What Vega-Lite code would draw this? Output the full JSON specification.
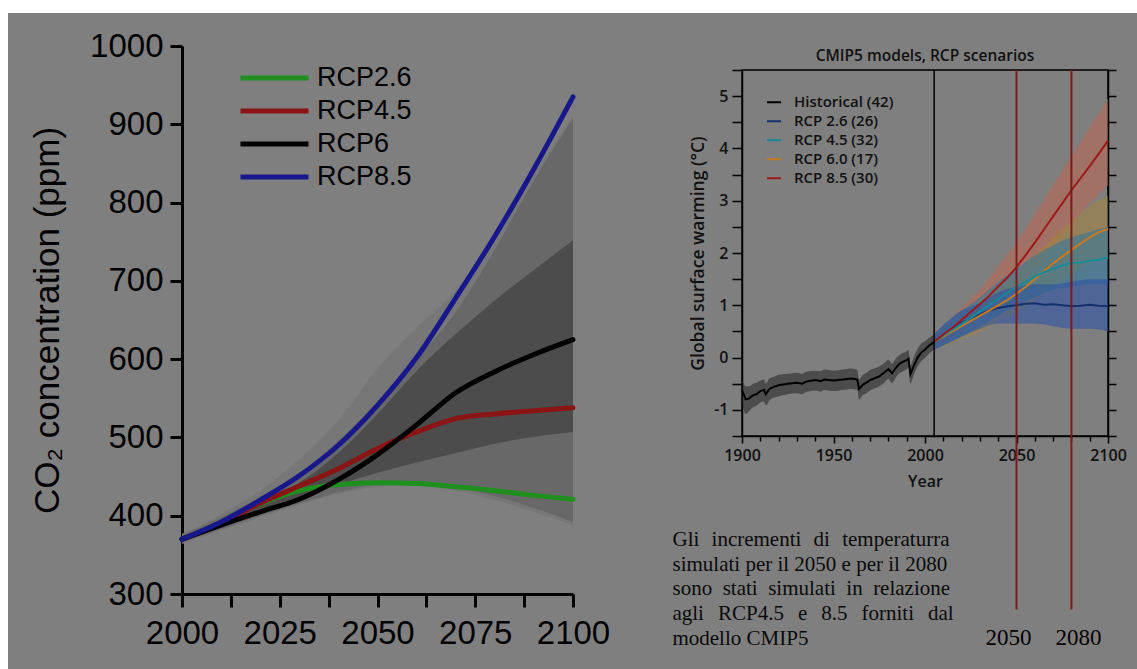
{
  "$schema": "https://vega.github.io/schema/vega-lite/v6.json",
  "background": "#7f7f7f",
  "padding": 0,
  "config": {
    "view": {"stroke": null},
    "axis": {"grid": false, "labelOverlap": false, "labelFlush": false},
    "text": {"font": "Liberation Serif"}
  },
  "datasets": {
    "co2_lines": [
      {"scenario": "RCP2.6", "year": 2000, "value": 370}, {"scenario": "RCP2.6", "year": 2010, "value": 390}, {"scenario": "RCP2.6", "year": 2020, "value": 415}, {"scenario": "RCP2.6", "year": 2030, "value": 432}, {"scenario": "RCP2.6", "year": 2040, "value": 440}, {"scenario": "RCP2.6", "year": 2050, "value": 442}, {"scenario": "RCP2.6", "year": 2060, "value": 441}, {"scenario": "RCP2.6", "year": 2070, "value": 437}, {"scenario": "RCP2.6", "year": 2080, "value": 432}, {"scenario": "RCP2.6", "year": 2090, "value": 426}, {"scenario": "RCP2.6", "year": 2100, "value": 421},
      {"scenario": "RCP4.5", "year": 2000, "value": 370}, {"scenario": "RCP4.5", "year": 2010, "value": 390}, {"scenario": "RCP4.5", "year": 2020, "value": 416}, {"scenario": "RCP4.5", "year": 2030, "value": 438}, {"scenario": "RCP4.5", "year": 2040, "value": 460}, {"scenario": "RCP4.5", "year": 2050, "value": 486}, {"scenario": "RCP4.5", "year": 2060, "value": 507}, {"scenario": "RCP4.5", "year": 2070, "value": 524}, {"scenario": "RCP4.5", "year": 2080, "value": 530}, {"scenario": "RCP4.5", "year": 2090, "value": 534}, {"scenario": "RCP4.5", "year": 2100, "value": 538},
      {"scenario": "RCP6", "year": 2000, "value": 370}, {"scenario": "RCP6", "year": 2010, "value": 388}, {"scenario": "RCP6", "year": 2020, "value": 405}, {"scenario": "RCP6", "year": 2030, "value": 421}, {"scenario": "RCP6", "year": 2040, "value": 446}, {"scenario": "RCP6", "year": 2050, "value": 478}, {"scenario": "RCP6", "year": 2060, "value": 516}, {"scenario": "RCP6", "year": 2070, "value": 557}, {"scenario": "RCP6", "year": 2080, "value": 584}, {"scenario": "RCP6", "year": 2090, "value": 606}, {"scenario": "RCP6", "year": 2100, "value": 625},
      {"scenario": "RCP8.5", "year": 2000, "value": 370}, {"scenario": "RCP8.5", "year": 2010, "value": 392}, {"scenario": "RCP8.5", "year": 2020, "value": 420}, {"scenario": "RCP8.5", "year": 2030, "value": 451}, {"scenario": "RCP8.5", "year": 2040, "value": 490}, {"scenario": "RCP8.5", "year": 2050, "value": 541}, {"scenario": "RCP8.5", "year": 2060, "value": 602}, {"scenario": "RCP8.5", "year": 2070, "value": 678}, {"scenario": "RCP8.5", "year": 2080, "value": 757}, {"scenario": "RCP8.5", "year": 2090, "value": 843}, {"scenario": "RCP8.5", "year": 2100, "value": 935}
    ],
    "co2_bands": [
      {"band": "outer", "year": 2000, "lo": 364, "hi": 377}, {"band": "outer", "year": 2010, "lo": 381, "hi": 402}, {"band": "outer", "year": 2020, "lo": 398, "hi": 432}, {"band": "outer", "year": 2030, "lo": 414, "hi": 472}, {"band": "outer", "year": 2040, "lo": 428, "hi": 522}, {"band": "outer", "year": 2050, "lo": 437, "hi": 588}, {"band": "outer", "year": 2060, "lo": 440, "hi": 640}, {"band": "outer", "year": 2070, "lo": 432, "hi": 688}, {"band": "outer", "year": 2080, "lo": 420, "hi": 758}, {"band": "outer", "year": 2090, "lo": 405, "hi": 836}, {"band": "outer", "year": 2100, "lo": 388, "hi": 912},
      {"band": "mid", "year": 2000, "lo": 366, "hi": 375}, {"band": "mid", "year": 2010, "lo": 383, "hi": 398}, {"band": "mid", "year": 2020, "lo": 400, "hi": 424}, {"band": "mid", "year": 2030, "lo": 416, "hi": 454}, {"band": "mid", "year": 2040, "lo": 430, "hi": 496}, {"band": "mid", "year": 2050, "lo": 440, "hi": 545}, {"band": "mid", "year": 2060, "lo": 442, "hi": 600}, {"band": "mid", "year": 2070, "lo": 436, "hi": 660}, {"band": "mid", "year": 2080, "lo": 425, "hi": 740}, {"band": "mid", "year": 2090, "lo": 410, "hi": 828}, {"band": "mid", "year": 2100, "lo": 392, "hi": 908},
      {"band": "inner", "year": 2000, "lo": 368, "hi": 373}, {"band": "inner", "year": 2010, "lo": 386, "hi": 394}, {"band": "inner", "year": 2020, "lo": 405, "hi": 418}, {"band": "inner", "year": 2030, "lo": 422, "hi": 442}, {"band": "inner", "year": 2040, "lo": 440, "hi": 480}, {"band": "inner", "year": 2050, "lo": 455, "hi": 530}, {"band": "inner", "year": 2060, "lo": 468, "hi": 585}, {"band": "inner", "year": 2070, "lo": 480, "hi": 632}, {"band": "inner", "year": 2080, "lo": 492, "hi": 675}, {"band": "inner", "year": 2090, "lo": 501, "hi": 714}, {"band": "inner", "year": 2100, "lo": 507, "hi": 752}
    ],
    "cmip_bands": [
      {"series": "Historical", "year": 1900, "lo": -0.85, "hi": -0.40}, {"series": "Historical", "year": 1902, "lo": -1.08, "hi": -0.55}, {"series": "Historical", "year": 1904, "lo": -1.02, "hi": -0.55}, {"series": "Historical", "year": 1906, "lo": -0.95, "hi": -0.50}, {"series": "Historical", "year": 1908, "lo": -0.92, "hi": -0.48}, {"series": "Historical", "year": 1910, "lo": -0.86, "hi": -0.44}, {"series": "Historical", "year": 1912, "lo": -0.84, "hi": -0.42}, {"series": "Historical", "year": 1913, "lo": -0.92, "hi": -0.50}, {"series": "Historical", "year": 1915, "lo": -0.82, "hi": -0.40}, {"series": "Historical", "year": 1918, "lo": -0.76, "hi": -0.36}, {"series": "Historical", "year": 1920, "lo": -0.74, "hi": -0.33}, {"series": "Historical", "year": 1925, "lo": -0.70, "hi": -0.31}, {"series": "Historical", "year": 1930, "lo": -0.68, "hi": -0.29}, {"series": "Historical", "year": 1933, "lo": -0.70, "hi": -0.31}, {"series": "Historical", "year": 1935, "lo": -0.66, "hi": -0.27}, {"series": "Historical", "year": 1940, "lo": -0.63, "hi": -0.25}, {"series": "Historical", "year": 1943, "lo": -0.65, "hi": -0.26}, {"series": "Historical", "year": 1945, "lo": -0.62, "hi": -0.23}, {"series": "Historical", "year": 1950, "lo": -0.64, "hi": -0.25}, {"series": "Historical", "year": 1955, "lo": -0.62, "hi": -0.23}, {"series": "Historical", "year": 1960, "lo": -0.60, "hi": -0.21}, {"series": "Historical", "year": 1963, "lo": -0.62, "hi": -0.24}, {"series": "Historical", "year": 1964, "lo": -0.80, "hi": -0.42}, {"series": "Historical", "year": 1966, "lo": -0.72, "hi": -0.33}, {"series": "Historical", "year": 1968, "lo": -0.68, "hi": -0.29}, {"series": "Historical", "year": 1970, "lo": -0.63, "hi": -0.24}, {"series": "Historical", "year": 1975, "lo": -0.55, "hi": -0.17}, {"series": "Historical", "year": 1978, "lo": -0.47, "hi": -0.10}, {"series": "Historical", "year": 1980, "lo": -0.41, "hi": -0.04}, {"series": "Historical", "year": 1982, "lo": -0.49, "hi": -0.12}, {"series": "Historical", "year": 1984, "lo": -0.38, "hi": -0.02}, {"series": "Historical", "year": 1986, "lo": -0.30, "hi": 0.05}, {"series": "Historical", "year": 1988, "lo": -0.26, "hi": 0.09}, {"series": "Historical", "year": 1990, "lo": -0.22, "hi": 0.12}, {"series": "Historical", "year": 1991, "lo": -0.19, "hi": 0.15}, {"series": "Historical", "year": 1992, "lo": -0.50, "hi": -0.15}, {"series": "Historical", "year": 1994, "lo": -0.32, "hi": 0.02}, {"series": "Historical", "year": 1996, "lo": -0.17, "hi": 0.17}, {"series": "Historical", "year": 1998, "lo": -0.07, "hi": 0.27}, {"series": "Historical", "year": 2000, "lo": -0.01, "hi": 0.31}, {"series": "Historical", "year": 2002, "lo": 0.07, "hi": 0.37}, {"series": "Historical", "year": 2005, "lo": 0.16, "hi": 0.44},
      {"series": "RCP 8.5", "year": 2005, "lo": 0.15, "hi": 0.45}, {"series": "RCP 8.5", "year": 2020, "lo": 0.45, "hi": 0.95}, {"series": "RCP 8.5", "year": 2030, "lo": 0.7, "hi": 1.3}, {"series": "RCP 8.5", "year": 2040, "lo": 1.0, "hi": 1.75}, {"series": "RCP 8.5", "year": 2050, "lo": 1.3, "hi": 2.2}, {"series": "RCP 8.5", "year": 2060, "lo": 1.7, "hi": 2.75}, {"series": "RCP 8.5", "year": 2070, "lo": 2.15, "hi": 3.3}, {"series": "RCP 8.5", "year": 2080, "lo": 2.55, "hi": 3.85}, {"series": "RCP 8.5", "year": 2090, "lo": 2.95, "hi": 4.4}, {"series": "RCP 8.5", "year": 2100, "lo": 3.3, "hi": 4.95},
      {"series": "RCP 6.0", "year": 2005, "lo": 0.15, "hi": 0.45}, {"series": "RCP 6.0", "year": 2020, "lo": 0.35, "hi": 0.85}, {"series": "RCP 6.0", "year": 2030, "lo": 0.5, "hi": 1.1}, {"series": "RCP 6.0", "year": 2040, "lo": 0.7, "hi": 1.35}, {"series": "RCP 6.0", "year": 2050, "lo": 0.85, "hi": 1.6}, {"series": "RCP 6.0", "year": 2060, "lo": 1.1, "hi": 1.95}, {"series": "RCP 6.0", "year": 2070, "lo": 1.35, "hi": 2.3}, {"series": "RCP 6.0", "year": 2080, "lo": 1.6, "hi": 2.6}, {"series": "RCP 6.0", "year": 2090, "lo": 1.8, "hi": 2.9}, {"series": "RCP 6.0", "year": 2100, "lo": 1.9, "hi": 3.1},
      {"series": "RCP 4.5", "year": 2005, "lo": 0.15, "hi": 0.45}, {"series": "RCP 4.5", "year": 2020, "lo": 0.4, "hi": 0.9}, {"series": "RCP 4.5", "year": 2030, "lo": 0.6, "hi": 1.15}, {"series": "RCP 4.5", "year": 2040, "lo": 0.8, "hi": 1.45}, {"series": "RCP 4.5", "year": 2050, "lo": 1.0, "hi": 1.7}, {"series": "RCP 4.5", "year": 2060, "lo": 1.15, "hi": 1.95}, {"series": "RCP 4.5", "year": 2070, "lo": 1.3, "hi": 2.15}, {"series": "RCP 4.5", "year": 2080, "lo": 1.35, "hi": 2.3}, {"series": "RCP 4.5", "year": 2090, "lo": 1.4, "hi": 2.4}, {"series": "RCP 4.5", "year": 2100, "lo": 1.4, "hi": 2.5},
      {"series": "RCP 2.6", "year": 2005, "lo": 0.15, "hi": 0.45}, {"series": "RCP 2.6", "year": 2020, "lo": 0.4, "hi": 0.9}, {"series": "RCP 2.6", "year": 2030, "lo": 0.55, "hi": 1.05}, {"series": "RCP 2.6", "year": 2040, "lo": 0.65, "hi": 1.25}, {"series": "RCP 2.6", "year": 2050, "lo": 0.65, "hi": 1.35}, {"series": "RCP 2.6", "year": 2060, "lo": 0.65, "hi": 1.4}, {"series": "RCP 2.6", "year": 2070, "lo": 0.6, "hi": 1.4}, {"series": "RCP 2.6", "year": 2080, "lo": 0.55, "hi": 1.45}, {"series": "RCP 2.6", "year": 2090, "lo": 0.55, "hi": 1.5}, {"series": "RCP 2.6", "year": 2100, "lo": 0.5, "hi": 1.5}
    ],
    "cmip_lines": [
      {"series": "Historical (42)", "year": 1900, "value": -0.62}, {"series": "Historical (42)", "year": 1902, "value": -0.80}, {"series": "Historical (42)", "year": 1904, "value": -0.78}, {"series": "Historical (42)", "year": 1906, "value": -0.72}, {"series": "Historical (42)", "year": 1908, "value": -0.70}, {"series": "Historical (42)", "year": 1910, "value": -0.64}, {"series": "Historical (42)", "year": 1912, "value": -0.62}, {"series": "Historical (42)", "year": 1913, "value": -0.70}, {"series": "Historical (42)", "year": 1915, "value": -0.60}, {"series": "Historical (42)", "year": 1918, "value": -0.55}, {"series": "Historical (42)", "year": 1920, "value": -0.53}, {"series": "Historical (42)", "year": 1925, "value": -0.50}, {"series": "Historical (42)", "year": 1930, "value": -0.48}, {"series": "Historical (42)", "year": 1933, "value": -0.50}, {"series": "Historical (42)", "year": 1935, "value": -0.46}, {"series": "Historical (42)", "year": 1940, "value": -0.43}, {"series": "Historical (42)", "year": 1943, "value": -0.45}, {"series": "Historical (42)", "year": 1945, "value": -0.42}, {"series": "Historical (42)", "year": 1950, "value": -0.44}, {"series": "Historical (42)", "year": 1955, "value": -0.42}, {"series": "Historical (42)", "year": 1960, "value": -0.40}, {"series": "Historical (42)", "year": 1963, "value": -0.42}, {"series": "Historical (42)", "year": 1964, "value": -0.60}, {"series": "Historical (42)", "year": 1966, "value": -0.52}, {"series": "Historical (42)", "year": 1968, "value": -0.48}, {"series": "Historical (42)", "year": 1970, "value": -0.43}, {"series": "Historical (42)", "year": 1975, "value": -0.36}, {"series": "Historical (42)", "year": 1978, "value": -0.28}, {"series": "Historical (42)", "year": 1980, "value": -0.22}, {"series": "Historical (42)", "year": 1982, "value": -0.30}, {"series": "Historical (42)", "year": 1984, "value": -0.20}, {"series": "Historical (42)", "year": 1986, "value": -0.12}, {"series": "Historical (42)", "year": 1988, "value": -0.08}, {"series": "Historical (42)", "year": 1990, "value": -0.05}, {"series": "Historical (42)", "year": 1991, "value": -0.02}, {"series": "Historical (42)", "year": 1992, "value": -0.32}, {"series": "Historical (42)", "year": 1994, "value": -0.15}, {"series": "Historical (42)", "year": 1996, "value": 0.00}, {"series": "Historical (42)", "year": 1998, "value": 0.10}, {"series": "Historical (42)", "year": 2000, "value": 0.15}, {"series": "Historical (42)", "year": 2002, "value": 0.22}, {"series": "Historical (42)", "year": 2005, "value": 0.30},
      {"series": "RCP 2.6 (26)", "year": 2005, "value": 0.30}, {"series": "RCP 2.6 (26)", "year": 2010, "value": 0.42}, {"series": "RCP 2.6 (26)", "year": 2015, "value": 0.55}, {"series": "RCP 2.6 (26)", "year": 2020, "value": 0.66}, {"series": "RCP 2.6 (26)", "year": 2025, "value": 0.75}, {"series": "RCP 2.6 (26)", "year": 2030, "value": 0.83}, {"series": "RCP 2.6 (26)", "year": 2035, "value": 0.90}, {"series": "RCP 2.6 (26)", "year": 2040, "value": 0.95}, {"series": "RCP 2.6 (26)", "year": 2045, "value": 0.98}, {"series": "RCP 2.6 (26)", "year": 2050, "value": 1.00}, {"series": "RCP 2.6 (26)", "year": 2055, "value": 1.03}, {"series": "RCP 2.6 (26)", "year": 2060, "value": 1.04}, {"series": "RCP 2.6 (26)", "year": 2065, "value": 1.01}, {"series": "RCP 2.6 (26)", "year": 2070, "value": 1.02}, {"series": "RCP 2.6 (26)", "year": 2075, "value": 1.00}, {"series": "RCP 2.6 (26)", "year": 2080, "value": 0.98}, {"series": "RCP 2.6 (26)", "year": 2085, "value": 0.99}, {"series": "RCP 2.6 (26)", "year": 2090, "value": 1.01}, {"series": "RCP 2.6 (26)", "year": 2095, "value": 0.99}, {"series": "RCP 2.6 (26)", "year": 2100, "value": 0.98},
      {"series": "RCP 6.0 (17)", "year": 2005, "value": 0.30}, {"series": "RCP 6.0 (17)", "year": 2010, "value": 0.40}, {"series": "RCP 6.0 (17)", "year": 2015, "value": 0.50}, {"series": "RCP 6.0 (17)", "year": 2020, "value": 0.60}, {"series": "RCP 6.0 (17)", "year": 2025, "value": 0.70}, {"series": "RCP 6.0 (17)", "year": 2030, "value": 0.80}, {"series": "RCP 6.0 (17)", "year": 2035, "value": 0.90}, {"series": "RCP 6.0 (17)", "year": 2040, "value": 1.00}, {"series": "RCP 6.0 (17)", "year": 2045, "value": 1.10}, {"series": "RCP 6.0 (17)", "year": 2050, "value": 1.22}, {"series": "RCP 6.0 (17)", "year": 2055, "value": 1.35}, {"series": "RCP 6.0 (17)", "year": 2060, "value": 1.50}, {"series": "RCP 6.0 (17)", "year": 2065, "value": 1.65}, {"series": "RCP 6.0 (17)", "year": 2070, "value": 1.80}, {"series": "RCP 6.0 (17)", "year": 2075, "value": 1.93}, {"series": "RCP 6.0 (17)", "year": 2080, "value": 2.06}, {"series": "RCP 6.0 (17)", "year": 2085, "value": 2.18}, {"series": "RCP 6.0 (17)", "year": 2090, "value": 2.30}, {"series": "RCP 6.0 (17)", "year": 2095, "value": 2.40}, {"series": "RCP 6.0 (17)", "year": 2100, "value": 2.46},
      {"series": "RCP 4.5 (32)", "year": 2005, "value": 0.30}, {"series": "RCP 4.5 (32)", "year": 2010, "value": 0.42}, {"series": "RCP 4.5 (32)", "year": 2015, "value": 0.53}, {"series": "RCP 4.5 (32)", "year": 2020, "value": 0.64}, {"series": "RCP 4.5 (32)", "year": 2025, "value": 0.76}, {"series": "RCP 4.5 (32)", "year": 2030, "value": 0.88}, {"series": "RCP 4.5 (32)", "year": 2035, "value": 1.00}, {"series": "RCP 4.5 (32)", "year": 2040, "value": 1.12}, {"series": "RCP 4.5 (32)", "year": 2045, "value": 1.24}, {"series": "RCP 4.5 (32)", "year": 2050, "value": 1.35}, {"series": "RCP 4.5 (32)", "year": 2055, "value": 1.45}, {"series": "RCP 4.5 (32)", "year": 2060, "value": 1.55}, {"series": "RCP 4.5 (32)", "year": 2065, "value": 1.63}, {"series": "RCP 4.5 (32)", "year": 2070, "value": 1.70}, {"series": "RCP 4.5 (32)", "year": 2075, "value": 1.76}, {"series": "RCP 4.5 (32)", "year": 2080, "value": 1.81}, {"series": "RCP 4.5 (32)", "year": 2085, "value": 1.82}, {"series": "RCP 4.5 (32)", "year": 2090, "value": 1.85}, {"series": "RCP 4.5 (32)", "year": 2095, "value": 1.87}, {"series": "RCP 4.5 (32)", "year": 2100, "value": 1.92},
      {"series": "RCP 8.5 (30)", "year": 2005, "value": 0.30}, {"series": "RCP 8.5 (30)", "year": 2010, "value": 0.44}, {"series": "RCP 8.5 (30)", "year": 2015, "value": 0.57}, {"series": "RCP 8.5 (30)", "year": 2020, "value": 0.72}, {"series": "RCP 8.5 (30)", "year": 2025, "value": 0.87}, {"series": "RCP 8.5 (30)", "year": 2030, "value": 1.02}, {"series": "RCP 8.5 (30)", "year": 2035, "value": 1.18}, {"series": "RCP 8.5 (30)", "year": 2040, "value": 1.36}, {"series": "RCP 8.5 (30)", "year": 2045, "value": 1.53}, {"series": "RCP 8.5 (30)", "year": 2050, "value": 1.73}, {"series": "RCP 8.5 (30)", "year": 2055, "value": 1.96}, {"series": "RCP 8.5 (30)", "year": 2060, "value": 2.20}, {"series": "RCP 8.5 (30)", "year": 2065, "value": 2.45}, {"series": "RCP 8.5 (30)", "year": 2070, "value": 2.70}, {"series": "RCP 8.5 (30)", "year": 2075, "value": 2.95}, {"series": "RCP 8.5 (30)", "year": 2080, "value": 3.20}, {"series": "RCP 8.5 (30)", "year": 2085, "value": 3.43}, {"series": "RCP 8.5 (30)", "year": 2090, "value": 3.66}, {"series": "RCP 8.5 (30)", "year": 2095, "value": 3.90}, {"series": "RCP 8.5 (30)", "year": 2100, "value": 4.15}
    ],
    "markers": [{"year": 2050}, {"year": 2080}],
    "note": [{"text": "Gli \u2004incrementi \u2004di \u2004temperaturra\nsimulati per il 2050 e per il 2080\nsono \u2005stati \u2005simulati \u2005in \u2005relazione\nagli \u2004\u200aRCP4.5 \u2004\u200ae \u2004\u200a8.5 \u2004\u200aforniti \u2004\u200adal\nmodello CMIP5"}]
  },
  "spacing": 0,
  "bounds": "flush",
  "hconcat": [
    {
      "width": 8, "height": 669,
      "data": {"values": [{}]},
      "mark": {"type": "point", "opacity": 0},
      "view": {"fill": "#ffffff", "stroke": null}
    },
    {
      "spacing": 33,
      "bounds": "flush",
      "vconcat": [
        {
          "width": 1129, "height": 13,
          "data": {"values": [{}]},
          "mark": {"type": "point", "opacity": 0},
          "view": {"fill": "#ffffff", "stroke": null}
        },
        {
          "spacing": 169,
          "bounds": "flush",
          "resolve": {"scale": {"color": "independent"}, "legend": {"color": "independent"}},
          "hconcat": [
            {
              "width": 5, "height": 1,
              "data": {"values": [{}]},
              "mark": {"type": "point", "opacity": 0}
            },
            {
              "width": 391, "height": 548,
              "layer": [
                {
                  "data": {"name": "co2_bands"},
                  "transform": [{"filter": "datum.band == 'outer'"}],
                  "mark": {"type": "area", "color": "#777777", "interpolate": "monotone"},
                  "encoding": {
                    "x": {"field": "year", "type": "quantitative", "scale": {"domain": [2000, 2100], "nice": false, "zero": false},
                      "axis": {"values": [2000, 2012.5, 2025, 2037.5, 2050, 2062.5, 2075, 2087.5, 2100], "format": "d", "labelExpr": "datum.value % 25 == 0 ? datum.label : ''", "title": null, "domainColor": "#000000", "domainWidth": 3, "tickColor": "#000000", "tickWidth": 3, "tickSize": 13, "labelFont": "Liberation Sans", "labelFontSize": 33, "labelColor": "#000000", "labelPadding": 10, "labelOverlap": false, "labelFlush": false,
                        "encode": {"ticks": {"update": {"y2": {"signal": "datum.value % 25 == 0 ? 13 : 8"}}}}}},
                    "y": {"field": "lo", "type": "quantitative", "scale": {"domain": [300, 1000], "nice": false, "zero": false},
                      "axis": {"values": [300, 350, 400, 450, 500, 550, 600, 650, 700, 750, 800, 850, 900, 950, 1000], "format": "d", "labelExpr": "datum.value % 100 == 0 ? datum.label : ''", "title": "CO₂ concentration (ppm)", "titleFont": "Liberation Sans", "titleFontSize": 35, "titleFontWeight": "normal", "titleColor": "#000000", "titlePadding": 24, "domainColor": "#000000", "domainWidth": 3, "tickColor": "#000000", "tickWidth": 3, "tickSize": 12, "labelFont": "Liberation Sans", "labelFontSize": 33, "labelColor": "#000000", "labelPadding": 7, "labelOverlap": false,
                        "encode": {"ticks": {"update": {"x2": {"signal": "datum.value % 100 == 0 ? -12 : -7"}}}}}},
                    "y2": {"field": "hi"}
                  }
                },
                {
                  "data": {"name": "co2_bands"},
                  "transform": [{"filter": "datum.band == 'mid'"}],
                  "mark": {"type": "area", "color": "#686868", "interpolate": "monotone"},
                  "encoding": {
                    "x": {"field": "year", "type": "quantitative"},
                    "y": {"field": "lo", "type": "quantitative"},
                    "y2": {"field": "hi"}
                  }
                },
                {
                  "data": {"name": "co2_bands"},
                  "transform": [{"filter": "datum.band == 'inner'"}],
                  "mark": {"type": "area", "color": "#4c4c4c", "interpolate": "monotone"},
                  "encoding": {
                    "x": {"field": "year", "type": "quantitative"},
                    "y": {"field": "lo", "type": "quantitative"},
                    "y2": {"field": "hi"}
                  }
                },
                {
                  "data": {"name": "co2_lines"},
                  "mark": {"type": "line", "strokeWidth": 5, "interpolate": "monotone", "strokeCap": "round"},
                  "encoding": {
                    "x": {"field": "year", "type": "quantitative"},
                    "y": {"field": "value", "type": "quantitative"},
                    "color": {"field": "scenario", "type": "nominal",
                      "scale": {"domain": ["RCP2.6", "RCP4.5", "RCP6", "RCP8.5"], "range": ["#1f8f1f", "#8b1414", "#000000", "#18188c"]},
                      "legend": {"orient": "none", "legendX": 56, "legendY": 15.7, "title": null, "symbolType": "stroke", "symbolSize": 4624, "symbolStrokeWidth": 5, "labelFont": "Liberation Sans", "labelFontSize": 27, "labelColor": "#000000", "labelOffset": 6, "clipHeight": 32.6, "rowPadding": 0, "padding": 0}}
                  }
                }
              ]
            },
            {
              "spacing": 23,
              "bounds": "flush",
              "vconcat": [
                {
                  "width": 1, "height": 1,
                  "data": {"values": [{}]},
                  "mark": {"type": "point", "opacity": 0}
                },
                {
                  "width": 366, "height": 366,
                  "title": {"text": "CMIP5 models, RCP scenarios", "font": "Open Sans", "fontSize": 15.5, "fontWeight": 600, "color": "#111111", "offset": -2},
                  "view": {"stroke": "#000000", "strokeWidth": 1.5},
                  "resolve": {"axis": {"x": "independent", "y": "independent"}},
                  "layer": [
                    {
                      "data": {"name": "cmip_bands"},
                      "mark": {"type": "area", "opacity": 0.55, "interpolate": "monotone"},
                      "encoding": {
                        "x": {"field": "year", "type": "quantitative", "scale": {"domain": [1900, 2100], "nice": false, "zero": false},
                          "axis": {"orient": "bottom", "values": [1900, 1950, 2000, 2050, 2100], "format": "d", "title": "Year", "titleFont": "Open Sans", "titleFontSize": 16, "titleFontWeight": 600, "titleColor": "#111111", "titlePadding": 10, "domainColor": "#000000", "domainWidth": 1.5, "tickColor": "#000000", "tickWidth": 1.5, "tickSize": 7, "labelFont": "Open Sans", "labelFontSize": 16, "labelFontWeight": 600, "labelColor": "#111111", "labelPadding": 4, "labelOverlap": false, "labelFlush": false}},
                        "y": {"field": "lo", "type": "quantitative", "scale": {"domain": [-1.5, 5.5], "nice": false, "zero": false},
                          "axis": {"orient": "left", "values": [-1.5, -1, -0.5, 0, 0.5, 1, 1.5, 2, 2.5, 3, 3.5, 4, 4.5, 5, 5.5], "labelExpr": "datum.value % 1 == 0 ? '' + datum.value : ''", "title": "Global surface warming (°C)", "titleFont": "Open Sans", "titleFontSize": 17.5, "titleFontWeight": 600, "titleColor": "#111111", "titlePadding": 6, "domainColor": "#000000", "domainWidth": 1.5, "tickColor": "#000000", "tickWidth": 1.5, "tickSize": 10, "labelFont": "Open Sans", "labelFontSize": 16, "labelFontWeight": 600, "labelColor": "#111111", "labelPadding": 4, "labelOverlap": false,
                            "encode": {"ticks": {"update": {"x2": {"signal": "datum.value % 1 == 0 ? -10 : -5"}}}}}},
                        "y2": {"field": "hi"},
                        "fill": {"field": "series", "type": "nominal", "legend": null,
                          "scale": {"domain": ["Historical", "RCP 2.6", "RCP 4.5", "RCP 6.0", "RCP 8.5"], "range": ["#222222", "#2850a8", "#2a78a0", "#a8843a", "#c06652"]}}
                      }
                    },
                    {
                      "data": {"name": "cmip_lines"},
                      "mark": {"type": "line", "strokeWidth": 2},
                      "encoding": {
                        "x": {"field": "year", "type": "quantitative",
                          "axis": {"orient": "bottom", "values": [1910, 1920, 1930, 1940, 1960, 1970, 1980, 1990, 2010, 2020, 2030, 2040, 2060, 2070, 2080, 2090], "labels": false, "title": null, "domain": false, "tickColor": "#000000", "tickWidth": 1.5, "tickSize": 5,
                            "encode": {"ticks": {"update": {"y2": {"value": -5}}}}}},
                        "y": {"field": "value", "type": "quantitative",
                          "axis": {"orient": "right", "values": [-1.5, -1, -0.5, 0, 0.5, 1, 1.5, 2, 2.5, 3, 3.5, 4, 4.5, 5, 5.5], "labels": false, "title": null, "domainColor": "#000000", "domainWidth": 1.5, "tickColor": "#000000", "tickWidth": 1.5, "tickSize": 8,
                            "encode": {"ticks": {"update": {"x2": {"signal": "datum.value % 1 == 0 ? 8 : -5"}}}}}},
                        "color": {"field": "series", "type": "nominal",
                          "scale": {"domain": ["Historical (42)", "RCP 2.6 (26)", "RCP 4.5 (32)", "RCP 6.0 (17)", "RCP 8.5 (30)"], "range": ["#000000", "#14306e", "#168a96", "#c8781e", "#a01818"]},
                          "legend": {"orient": "none", "legendX": 24, "legendY": 47, "title": null, "symbolType": "stroke", "symbolSize": 196, "symbolStrokeWidth": 2, "labelFont": "Open Sans", "labelFontSize": 15, "labelFontWeight": 600, "labelColor": "#111111", "labelOffset": 12, "clipHeight": 18.5, "rowPadding": 0, "padding": 0}}
                      }
                    },
                    {
                      "data": {"values": [{}]},
                      "mark": {"type": "rule", "color": "#000000", "strokeWidth": 1.5},
                      "encoding": {
                        "x": {"datum": 2005, "type": "quantitative", "axis": null},
                        "y": {"datum": -1.5, "type": "quantitative", "axis": null},
                        "y2": {"datum": 5.5}
                      }
                    },
                    {
                      "data": {"name": "markers"},
                      "mark": {"type": "rule", "color": "#7d1a1a", "strokeWidth": 2},
                      "encoding": {
                        "x": {"field": "year", "type": "quantitative", "axis": null},
                        "y": {"datum": 5.5, "type": "quantitative", "axis": null},
                        "y2": {"datum": -4.82}
                      }
                    },
                    {
                      "data": {"name": "markers"},
                      "transform": [{"filter": "datum.year == 2050"}],
                      "mark": {"type": "text", "font": "Liberation Serif", "fontSize": 23, "color": "#000000", "baseline": "middle", "align": "center", "dx": -8},
                      "encoding": {
                        "x": {"field": "year", "type": "quantitative", "axis": null},
                        "y": {"datum": -5.36, "type": "quantitative", "axis": null},
                        "text": {"field": "year", "type": "nominal"}
                      }
                    },
                    {
                      "data": {"name": "markers"},
                      "transform": [{"filter": "datum.year == 2080"}],
                      "mark": {"type": "text", "font": "Liberation Serif", "fontSize": 23, "color": "#000000", "baseline": "middle", "align": "center", "dx": 7},
                      "encoding": {
                        "x": {"field": "year", "type": "quantitative", "axis": null},
                        "y": {"datum": -5.36, "type": "quantitative", "axis": null},
                        "text": {"field": "year", "type": "nominal"}
                      }
                    },
                    {
                      "data": {"name": "note"},
                      "mark": {"type": "text", "font": "Liberation Serif", "fontSize": 21, "color": "#0a0a0a", "align": "left", "baseline": "alphabetic", "lineBreak": "\n", "lineHeight": 24.8},
                      "encoding": {
                        "x": {"datum": 1862, "type": "quantitative", "axis": null},
                        "y": {"datum": -3.6, "type": "quantitative", "axis": null},
                        "text": {"field": "text", "type": "nominal"}
                      }
                    }
                  ]
                }
              ]
            }
          ]
        }
      ]
    }
  ]
}
